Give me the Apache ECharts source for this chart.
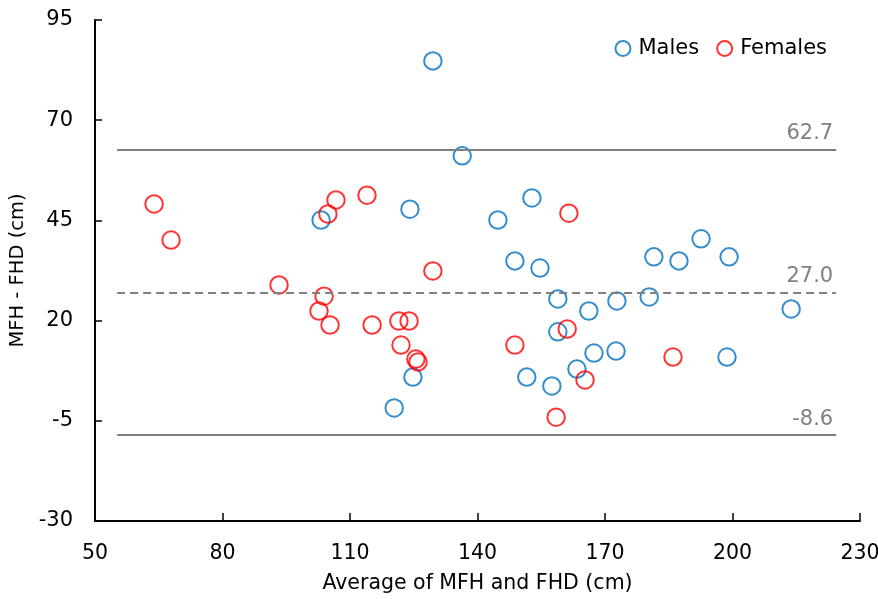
<!DOCTYPE html>
<html>
<head>
<meta charset="utf-8">
<script src="https://cdn.jsdelivr.net/npm/echarts@6/dist/echarts.min.js"></script>
<style>
  html, body { margin: 0; padding: 0; background: #fff; }
  #chart { width: 878px; height: 599px; }
</style>
</head>
<body>
<div id="chart"></div>
<script>
// Bland-Altman style plot: average vs difference
var malesX = [129.5, 136.4, 103.2, 124.1, 144.8, 152.8, 148.8, 154.7, 158.9, 158.9,
              166.2, 172.8, 180.4, 181.5, 187.4, 192.6, 199.2, 213.8, 198.7, 172.6,
              167.4, 163.4, 151.6, 157.5, 124.8, 120.4];
var malesY = [84.8, 61.1, 45.1, 47.8, 45.1, 50.6, 34.9, 33.1, 25.4, 17.2,
              22.4, 24.9, 25.9, 35.9, 34.9, 40.4, 35.9, 22.9, 10.9, 12.4,
              11.9, 7.9, 5.9, 3.7, 5.9, -1.8];

var femalesX = [63.9, 67.9, 104.8, 106.7, 114.0, 161.5, 129.5, 93.3, 103.9, 102.7,
                105.3, 115.2, 121.5, 123.9, 122.0, 125.5, 126.0, 161.1, 148.8, 186.0,
                165.3, 158.5];
var femalesY = [49.1, 40.1, 46.6, 50.1, 51.3, 46.8, 32.4, 28.9, 26.1, 22.4,
                18.9, 18.9, 19.9, 19.9, 13.9, 10.4, 9.7, 17.9, 13.9, 10.9,
                5.2, -4.1];

// upper limit, mean difference, lower limit
var limitValues = [62.7, 27.0, -8.6];
var limitTypes = ['solid', [8, 5], 'solid'];
var limitFrom = 55.2;
var limitTo = 224.4;

var font = 'DejaVu Sans';

function pairs(xs, ys) {
    return xs.map(function (x, i) { return [x, ys[i]]; });
}

var limitLines = limitValues.map(function (v, i) {
    return [
        {coord: [limitFrom, v], lineStyle: {type: limitTypes[i]},
         label: {formatter: v.toFixed(1)}},
        {coord: [limitTo, v]}
    ];
});

var chart = echarts.init(document.getElementById('chart'));
chart.setOption({
    animation: false,
    grid: {left: 95, right: 18, top: 20, bottom: 78, outerBoundsMode: 'none'},
    legend: {
        right: 46,
        top: 33,
        itemWidth: 15,
        itemHeight: 15,
        itemGap: 17,
        textStyle: {fontFamily: font, fontSize: 21, color: '#000', padding: [0, 0, 0, 3]},
        data: ['Males', 'Females']
    },
    xAxis: {
        type: 'value',
        min: 50,
        max: 230,
        interval: 30,
        name: 'Average of MFH and FHD (cm)',
        nameLocation: 'middle',
        nameGap: 52,
        nameTextStyle: {fontFamily: font, fontSize: 20.5, color: '#000'},
        axisLine: {onZero: false, lineStyle: {color: '#000', width: 2}},
        axisTick: {inside: true, length: 8, lineStyle: {color: '#000', width: 1.5}},
        axisLabel: {fontFamily: font, fontSize: 20.5, color: '#000', margin: 22},
        splitLine: {show: false}
    },
    yAxis: {
        type: 'value',
        min: -30,
        max: 95,
        interval: 25,
        name: 'MFH - FHD (cm)',
        nameLocation: 'middle',
        nameGap: 64,
        nameTextStyle: {fontFamily: font, fontSize: 19.5, color: '#000'},
        axisLine: {onZero: false, lineStyle: {color: '#000', width: 2}},
        axisTick: {inside: true, length: 7, lineStyle: {color: '#000', width: 1.5}},
        axisLabel: {fontFamily: font, fontSize: 21, color: '#000', margin: 22},
        splitLine: {show: false}
    },
    series: [
        {
            name: 'Males',
            type: 'scatter',
            symbol: 'circle',
            symbolSize: 17.5,
            itemStyle: {color: 'transparent', borderColor: '#0070C0', borderWidth: 2},
            emphasis: {disabled: true},
            data: pairs(malesX, malesY),
            z: 3,
            markLine: {
                silent: true,
                symbol: 'none',
                lineStyle: {color: '#808080', width: 1.8},
                label: {
                    show: true,
                    position: 'insideEndTop',
                    distance: [3, 5],
                    fontFamily: font,
                    fontSize: 21,
                    color: '#808080'
                },
                data: limitLines
            }
        },
        {
            name: 'Females',
            type: 'scatter',
            symbol: 'circle',
            symbolSize: 17.5,
            itemStyle: {color: 'transparent', borderColor: '#FF0000', borderWidth: 2},
            emphasis: {disabled: true},
            data: pairs(femalesX, femalesY),
            z: 3
        }
    ]
});
</script>
</body>
</html>
